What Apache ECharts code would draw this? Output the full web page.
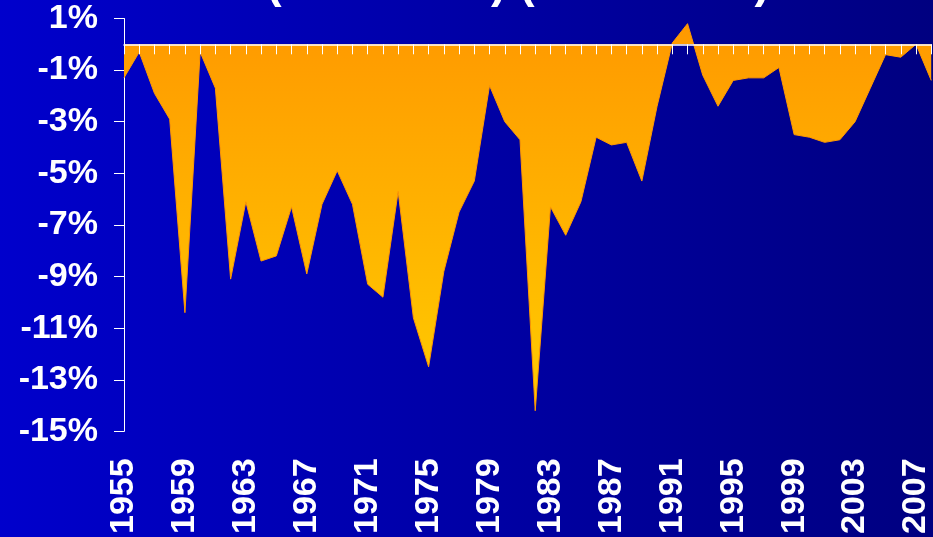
<!DOCTYPE html>
<html>
<head>
<meta charset="utf-8">
<script src="https://cdn.jsdelivr.net/npm/echarts@6/dist/echarts.min.js"></script>
<style>
html,body{margin:0;padding:0;}
#chart{width:933px;height:537px;}
</style>
</head>
<body>
<div id="chart"></div>
<script>
var titleText = '(% of GDP) (1955-2008)';
var years = [];
for (var y = 1955; y <= 2008; y++) { years.push(String(y)); }
var values = [
  -1.3, -0.3, -1.9, -2.9, -10.4, -0.3, -1.7, -9.1, -6.1, -8.4,
  -8.2, -6.3, -8.9, -6.2, -4.9, -6.2, -9.3, -9.8, -5.7, -10.6,
  -12.5, -8.8, -6.5, -5.3, -1.6, -3.0, -3.7, -14.2, -6.3, -7.4,
  -6.1, -3.6, -3.9, -3.8, -5.3, -2.4, 0.05, 0.8, -1.2, -2.4,
  -1.4, -1.3, -1.3, -0.9, -3.5, -3.6, -3.8, -3.7, -3.0, -1.7,
  -0.4, -0.5, 0.0, -1.4
];
var yMin = -15, yMax = 1, yStep = 2;

var chart = echarts.init(document.getElementById('chart'));
var font = '"Liberation Sans", Arial, sans-serif';
chart.setOption({
  animation: false,
  backgroundColor: new echarts.graphic.LinearGradient(0, 0, 1, 0, [
    {offset: 0, color: '#0000CC'},
    {offset: 1, color: '#000080'}
  ]),
  graphic: [{
    type: 'text',
    x: 518, y: -16,
    style: {
      text: titleText, fill: '#FFFFFF',
      font: 'bold 46px ' + font,
      align: 'center', verticalAlign: 'middle'
    }
  }],
  grid: {left: 124, right: -1, top: 18.5, bottom: 105.3, containLabel: false},
  xAxis: [{
    type: 'category', data: years, boundaryGap: false,
    axisLine: {onZero: true, lineStyle: {color: '#FFFFFF', width: 1.5}},
    axisTick: {show: true, interval: 0, length: 10, lineStyle: {color: '#FFFFFF', width: 1}},
    axisLabel: {show: false},
    splitLine: {show: false},
    z: 10
  }, {
    type: 'category', data: years, boundaryGap: false, position: 'bottom',
    axisLine: {show: false, onZero: false},
    axisTick: {show: false},
    axisLabel: {
      show: true, interval: 3, rotate: 90, margin: 27,
      color: '#FFFFFF', fontSize: 34, fontWeight: 'bold', fontFamily: font
    },
    splitLine: {show: false}
  }],
  yAxis: {
    type: 'value', min: yMin, max: yMax, interval: yStep,
    axisLine: {show: true, lineStyle: {color: '#FFFFFF', width: 1}},
    axisTick: {show: true, length: 10, lineStyle: {color: '#FFFFFF', width: 1}},
    axisLabel: {
      color: '#FFFFFF', fontSize: 34, fontWeight: 'bold', fontFamily: font, margin: 26,
      formatter: function (v) { return Math.round(v) + '%'; }
    },
    splitLine: {show: false}
  },
  series: [{
    type: 'line', data: values, xAxisIndex: 0,
    symbol: 'none', smooth: false,
    lineStyle: {color: '#FF9900', width: 1},
    areaStyle: {
      opacity: 1,
      color: new echarts.graphic.LinearGradient(0, 0, 0, 1, [
        {offset: 0, color: '#FF9900'},
        {offset: 1, color: '#FFCC00'}
      ])
    },
    z: 2
  }]
});
</script>
</body>
</html>
